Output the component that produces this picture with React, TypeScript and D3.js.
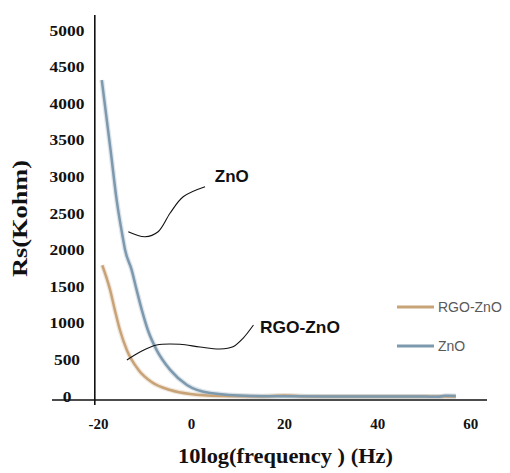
import React from "react";
import * as d3 from "d3";

// ---- data ----
const xTicks = [-20, 0, 20, 40, 60];
const yTicks = [0, 500, 1000, 1500, 2000, 2500, 3000, 3500, 4000, 4500, 5000];

const znoX = [-19.3, -17.4, -16.1, -14.7, -14.3, -12.9, -11.8, -10.7, -9.4, -7.5, -4.6, -1.0, 4.0, 12.6, 20, 30, 40, 50, 53, 54.5, 56.8];
const znoY = [4330, 3370, 2690, 2150, 2010, 1740, 1460, 1190, 915, 640, 370, 165, 55, 15, 10, 8, 8, 7, 2, 16, 12];

const rgoX = [-19.2, -17.5, -16.5, -15.4, -13.9, -11.4, -8.6, -4.6, -0.3, 6.1, 15, 20, 25, 40, 56.8];
const rgoY = [1800, 1460, 1190, 915, 640, 370, 205, 96, 41, 14, 8, 20, 8, 6, 6];

// annotation leader curves (data coordinates)
const znoNoteX = [-13.6, -10.0, -7.2, -4.6, -1.8, 2.9];
const znoNoteY = [2258, 2190, 2258, 2514, 2736, 2873];
const rgoNoteX = [-13.9, -11.1, -7.5, -2.5, 1.8, 6.1, 8.9, 11.1, 13.3];
const rgoNoteY = [505, 615, 710, 720, 683, 656, 686, 805, 983];

const seriesNames = ["RGO-ZnO", "ZnO"];
const seriesColors = ["#c9a378", "#7d99ae"];

const W = 510;
const H = 473;

export default function App() {
  const x = d3.scaleLinear().domain([-30, 63.5]).range([52, 487]);
  const y = d3.scaleLinear().domain([0, 5000]).range([397, 31]);

  const line = d3
    .line<[number, number]>()
    .x((d) => x(d[0]))
    .y((d) => y(d[1]))
    .curve(d3.curveMonotoneX);

  const noteLine = d3
    .line<[number, number]>()
    .x((d) => x(d[0]))
    .y((d) => y(d[1]))
    .curve(d3.curveCatmullRom.alpha(0.5));

  const zip = (a: number[], b: number[]) => a.map((v, i) => [v, b[i]] as [number, number]);
  const zno = zip(znoX, znoY);
  const rgo = zip(rgoX, rgoY);

  const axisY0 = y(0) + 3;
  const yAxisX = x(-20.8);
  const serif = "'Liberation Serif', 'Times New Roman', serif";
  const sans = "'Liberation Sans', Arial, sans-serif";

  return (
    <svg
      width={W}
      height={H}
      style={{ position: "fixed", left: 0, top: 0, background: "#fff" }}
    >
      <rect x={0} y={0} width={W} height={H} fill="#fff" />

      {/* series */}
      <path d={line(rgo) || ""} fill="none" stroke={seriesColors[0]} strokeWidth={5} strokeOpacity={0.25} />
      <path d={line(zno) || ""} fill="none" stroke={seriesColors[1]} strokeWidth={5} strokeOpacity={0.25} />
      <path d={line(rgo) || ""} fill="none" stroke={seriesColors[0]} strokeWidth={2.5} />
      <path d={line(zno) || ""} fill="none" stroke={seriesColors[1]} strokeWidth={2.5} />

      {/* axes */}
      <line x1={52} x2={487} y1={axisY0} y2={axisY0} stroke="#111" strokeWidth={1.6} />
      <line x1={yAxisX} x2={yAxisX} y1={15} y2={axisY0 + 5} stroke="#111" strokeWidth={1.6} />

      {/* y tick labels */}
      {yTicks.map((t) => (
        <text
          key={"y" + t}
          x={67}
          y={y(t)}
          textAnchor="middle"
          dominantBaseline="central"
          fontFamily={serif}
          fontWeight="bold"
          fontSize={14}
          textLength={String(t).length * 8.7}
          lengthAdjust="spacingAndGlyphs"
          fill="#111"
        >
          {t}
        </text>
      ))}

      {/* x tick labels */}
      {xTicks.map((t) => (
        <text
          key={"x" + t}
          x={x(t)}
          y={429}
          textAnchor="middle"
          fontFamily={serif}
          fontWeight="bold"
          fontSize={15}
          fill="#111"
        >
          {t}
        </text>
      ))}

      {/* axis titles */}
      <text
        x={285.5}
        y={463}
        textAnchor="middle"
        fontFamily={serif}
        fontWeight="bold"
        fontSize={20}
        textLength={215}
        lengthAdjust="spacingAndGlyphs"
        fill="#111"
      >
        10log(frequency ) (Hz)
      </text>
      <text
        transform="translate(27,218.5) rotate(-90)"
        textAnchor="middle"
        fontFamily={serif}
        fontWeight="bold"
        fontSize={21}
        textLength={117}
        lengthAdjust="spacingAndGlyphs"
        fill="#111"
      >
        Rs(Kohm)
      </text>

      {/* annotations */}
      <path d={noteLine(zip(znoNoteX, znoNoteY)) || ""} fill="none" stroke="#111" strokeWidth={1.1} />
      <path d={noteLine(zip(rgoNoteX, rgoNoteY)) || ""} fill="none" stroke="#111" strokeWidth={1.1} />
      <text x={x(5.0)} y={y(2937)} fontFamily={sans} fontWeight="bold" fontSize={17} fill="#111">
        ZnO
      </text>
      <text x={x(14.7)} y={y(874)} fontFamily={sans} fontWeight="bold" fontSize={17} textLength={80} lengthAdjust="spacingAndGlyphs" fill="#111">
        RGO-ZnO
      </text>

      {/* legend */}
      {seriesNames.map((n, i) => (
        <g key={n} transform={`translate(397, ${307 + i * 39})`}>
          <line x1={0} x2={37} y1={0} y2={0} stroke={seriesColors[i]} strokeWidth={3} />
          <text x={41} y={0} dominantBaseline="central" fontFamily={sans} fontSize={14} fill="#595959">
            {n}
          </text>
        </g>
      ))}
    </svg>
  );
}
